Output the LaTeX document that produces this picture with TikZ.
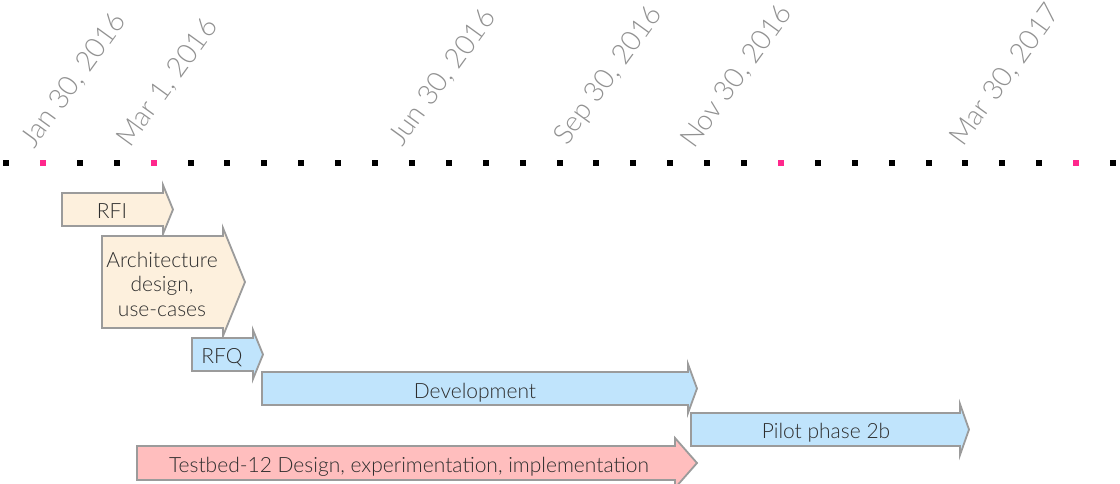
\documentclass[tikz,border=0pt]{standalone}
\usepackage{fontspec}
\setmainfont{Lato Light}
\definecolor{beige}{RGB}{253,240,221}
\definecolor{lblue}{RGB}{192,228,252}
\definecolor{lpink}{RGB}{255,190,190}
\definecolor{hotpink}{RGB}{255,40,140}
\definecolor{edgecol}{RGB}{155,155,155}
\definecolor{datecol}{RGB}{145,145,145}
\definecolor{txtcol}{RGB}{45,45,45}
\newcommand\tlarrow[7]{% x1, ytop, xbody, ybottom, xtip, fill, extend
  \draw[phasebox, fill=#6] (#1,#2) -- (#3,#2) -- (#3,#2-#7) -- (#5,{(#2+#4)/2})
    -- (#3,#4+#7) -- (#3,#4) -- (#1,#4) -- cycle;}
\begin{document}
\begin{tikzpicture}[x=1pt,y=-1pt,
  dot/.style={rectangle, minimum size=6pt, inner sep=0pt, fill=black},
  pdot/.style={dot, fill=hotpink},
  datelbl/.style={anchor=base west, rotate=54, inner sep=0pt, text=datecol,
    font=\fontsize{28}{28}\selectfont},
  phasebox/.style={draw=edgecol, line width=1.8pt, line join=miter},
  lbl/.style={text=txtcol, font=\fontsize{21}{24.5}\selectfont, align=center, inner sep=0pt}]
\useasboundingbox (0,0) rectangle (1120,483);
% timeline dots
\foreach \k in {0,2,3,5,6,7,8,9,10,11,12,13,14,15,16,17,18,19,20,22,23,24,25,26,27,28,30}
  \node[dot] (d\k) at (6+36.9*\k,163) {};
\foreach \k in {1,4,21,29}
  \node[pdot] (d\k) at (6+36.9*\k,163) {};
% date labels
\node[datelbl] (jan) at (34,150) {Jan 30, 2016};
\node[datelbl] (mar1) at (130,149) {Mar 1, 2016};
\node[datelbl] (jun) at (402,148) {Jun 30, 2016};
\node[datelbl] (sep) at (567,147) {Sep 30, 2016};
\node[datelbl] (nov) at (694,150) {Nov 30, 2016};
\node[datelbl] (mar17) at (963,148) {Mar 30, 2017};
% phase arrows
\tlarrow{62}{193}{163}{226}{173}{beige}{8}
\tlarrow{102}{236}{223}{328}{245}{beige}{8}
\tlarrow{192}{338}{253}{371}{263}{lblue}{8}
\tlarrow{262}{372}{688}{405}{697}{lblue}{8}
\tlarrow{691}{413}{960}{446}{969}{lblue}{9}
\tlarrow{137}{446}{675}{480}{697}{lpink}{8}
% labels
\node[lbl, anchor=base] (rfi) at (112,218) {RFI};
\node[lbl] (arch) at (162,284) {Architecture\\design,\\use-cases};
\node[lbl, anchor=base] (rfq) at (222,363) {RFQ};
\node[lbl, anchor=base] (dev) at (475,398) {Development};
\node[lbl, anchor=base] (pilot) at (826,438) {Pilot phase 2b};
\node[lbl, anchor=base] (testbed) at (409,472) {Testbed-12 Design, experimentation, implementation};
\end{tikzpicture}
\end{document}
